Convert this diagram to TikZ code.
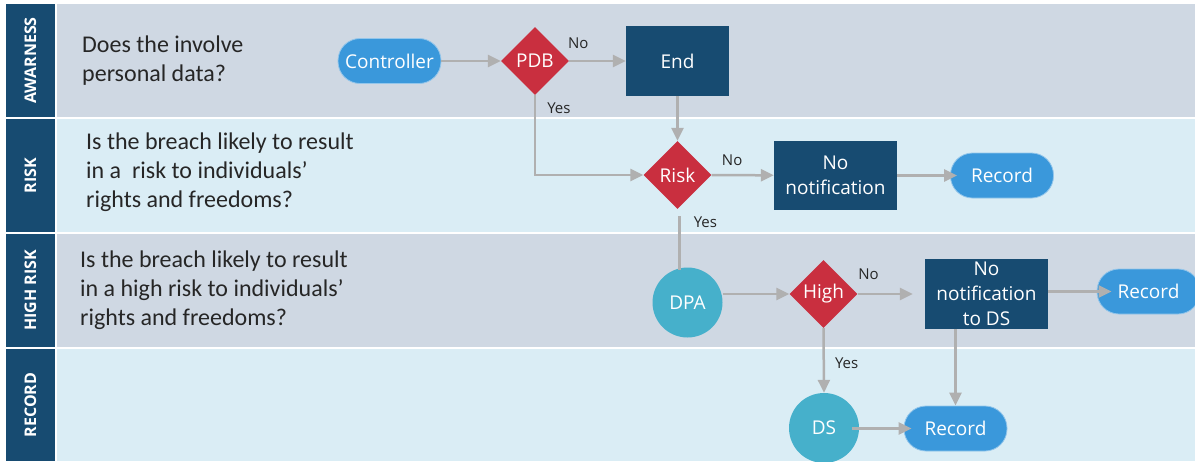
\documentclass[tikz,border=0pt]{standalone}
\usepackage{fontspec}
\setmainfont{Carlito}
\newfontfamily\flowfont{Open Sans}
\usetikzlibrary{arrows.meta,shapes.geometric}
\definecolor{lanegray}{HTML}{CFD8E3}
\definecolor{laneblue}{HTML}{DAEDF5}
\definecolor{headblue}{HTML}{174B71}
\definecolor{diared}{HTML}{C92F3F}
\definecolor{pillblue}{HTML}{3A98DB}
\definecolor{circteal}{HTML}{46B0CB}
\definecolor{linegray}{HTML}{B0B0B0}
\definecolor{txtgray}{HTML}{262626}
\begin{document}
\begin{tikzpicture}[x=1pt,y=-1pt,
    >={Triangle[length=13pt,width=12pt]},
    lanehead/.style={fill=headblue,text=white,rotate=90,minimum width=113pt,minimum height=49pt,
        inner sep=0pt,font=\flowfont\bfseries\fontsize{16}{19}\selectfont},
    question/.style={anchor=west,align=left,text=txtgray,inner sep=0pt,font=\fontsize{24}{29}\selectfont},
    pill/.style={fill=pillblue,draw=pillblue!55!white,line width=0.8pt,rounded corners=22pt,
        minimum width=103pt,minimum height=45pt,text=white,font=\flowfont\fontsize{19}{25}\selectfont},
    decision/.style={diamond,aspect=1,fill=diared,minimum width=68pt,minimum height=68pt,inner sep=0pt,
        text=white,font=\flowfont\fontsize{19}{25}\selectfont},
    stepbox/.style={fill=headblue,minimum width=123pt,minimum height=69pt,inner sep=0pt,align=center,
        text=white,font=\flowfont\fontsize{19}{25}\selectfont},
    agent/.style={circle,fill=circteal,minimum size=70pt,inner sep=0pt,text=white,
        font=\flowfont\fontsize{19}{25}\selectfont},
    flow/.style={draw=linegray,line width=2.5pt,->},
    answer/.style={text=txtgray,inner sep=1pt,font=\flowfont\fontsize{15}{17}\selectfont}]
    \useasboundingbox (0,0) rectangle (1195,461);
    \fill[white] (0,0) rectangle (1195,461);
    % corsie
    \fill[lanegray] (57,4) rectangle (1195,117);
    \fill[laneblue] (57,119) rectangle (1195,232);
    \fill[lanegray] (57,234) rectangle (1195,347);
    \fill[laneblue] (57,349) rectangle (1195,461);
    \node[lanehead] (hAw) at (30.5,60.5) {AWARNESS};
    \node[lanehead] (hRisk) at (30.5,175.5) {RISK};
    \node[lanehead] (hHigh) at (30.5,290.5) {HIGH RISK};
    \node[lanehead,minimum width=112pt] (hRec) at (30.5,405) {RECORD};
    \node[question] (qAw) at (82,60.5) {Does the involve\\personal data?};
    \node[question] (qRisk) at (86,172) {Is the breach likely to result\\in a \ risk to individuals’\\rights and freedoms?};
    \node[question] (qHigh) at (80,290) {Is the breach likely to result\\in a high risk to individuals’\\rights and freedoms?};
    % nodi del flusso
    \node[pill] (ctrl) at (389.5,61) {Controller};
    \node[decision] (pdb) at (535,61) {PDB};
    \node[stepbox,minimum width=103pt,minimum height=70pt] (endN) at (677.5,61) {End};
    \node[decision] (risk) at (677.5,175) {Risk};
    \node[stepbox] (nonot) at (835.5,175.5) {No\\notification};
    \node[pill] (recR) at (1002,175.5) {Record};
    \node[agent] (dpa) at (687.5,302.5) {DPA};
    \node[decision] (high) at (823.5,294) {High};
    \node[stepbox,minimum height=70pt] (nonotDS) at (986.5,294) {No\\notification\\to DS};
    \node[pill] (recH) at (1148.5,291.5) {Record};
    \node[agent] (ds) at (824,428) {DS};
    \node[pill] (recD) at (955.5,428.5) {Record};
    % collegamenti
    \draw[flow] (ctrl) -- (pdb);
    \draw[flow] (pdb) -- node[answer,pos=0.16,above=10pt]{No} (endN);
    \draw[flow] (pdb.south) |- node[answer,pos=0.08,right=10pt]{Yes} (risk.west);
    \draw[flow] (endN.south) -- (risk.north);
    \draw[flow] (risk) -- node[answer,pos=0.33,above=7pt]{No} (nonot);
    \draw[flow,shorten >=-7pt] (nonot.east |- recR.west) -- (recR.west);
    \coordinate (yesR) at ([shift={(2,7)}]risk.south);
    \draw[flow,-,shorten >=-3pt] (yesR) -- node[answer,pos=0.12,right=12pt]{Yes} (yesR |- dpa.north);
    \draw[flow] (dpa.east |- high.west) -- (high.west);
    \draw[flow,shorten >=12pt] (high) -- node[answer,pos=0.16,above=12pt]{No} (nonotDS);
    \draw[flow,shorten >=-15pt] (nonotDS.east |- recH.west) -- (recH.west);
    \draw[flow] (high.south) -- node[answer,pos=0.54,right=9pt]{Yes} (ds.north);
    \draw[flow,shorten <=-7pt,shorten >=-8pt] (ds.east |- recD.west) -- (recD.west);
    \draw[flow] (nonotDS.south -| recD.north) -- (recD.north);
\end{tikzpicture}
\end{document}
